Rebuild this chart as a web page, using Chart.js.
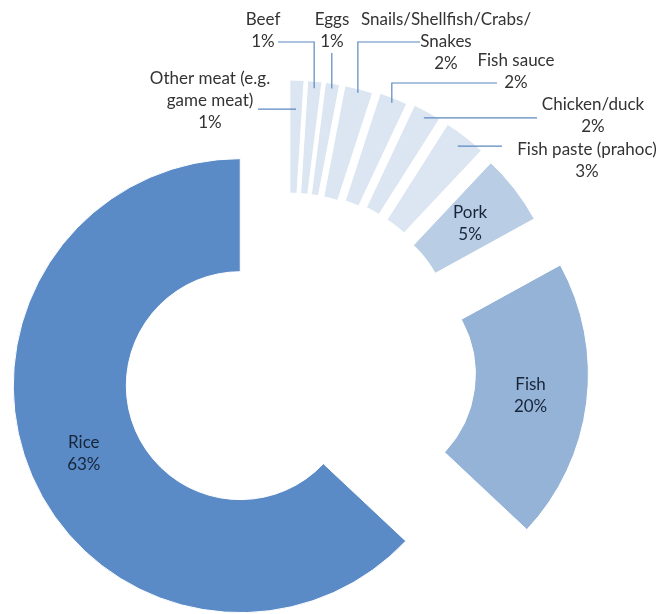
<!DOCTYPE html>
<html>
<head>
<meta charset="utf-8">
<script src="https://cdn.jsdelivr.net/npm/chart.js@4/dist/chart.umd.min.js"></script>
<style>
    body { margin: 0; background: #ffffff; }
    #wrap { width: 661px; height: 614px; }
</style>
</head>
<body>
<div id="wrap"><canvas id="foodChart" width="661" height="614"></canvas></div>
<script>
        // 데이터
        const categories = [
            ['Other meat (e.g.', 'game meat)'],
            'Beef',
            'Eggs',
            ['Snails/Shellfish/Crabs/', 'Snakes'],
            'Fish sauce',
            'Chicken/duck',
            'Fish paste (prahoc)',
            'Pork',
            'Fish',
            'Rice'
        ];
        const shares = [1, 1, 1, 2, 2, 2, 3, 5, 20, 63];

        // 스타일
        const sliceColors = [
            '#dce6f2', '#dce6f2', '#dce6f2', '#dce6f2', '#dce6f2', '#dce6f2', '#dce6f2',
            '#b9cde5', '#95b3d7', '#5b8bc7'
        ];
        const explode = [58, 58, 58, 58, 60, 62, 62, 60, 74, 52];
        const FONT = '17px Lato';
        const LINE_H = 22;

        // outside label layout: text centre of first line + leader line
        const outsideLabels = [
            { x: 210, y: 79, lead: 'h', fromX: 258, r: 198 },
            { x: 263, y: 20, lead: 'elbow', fromX: 278, fromY: 42, r: 220 },
            { x: 332, y: 20, lead: 'v', fromY: 53, r: 222 },
            { x: 446, y: 20, lead: 'elbow', fromX: 420, fromY: 42, r: 223 },
            { x: 516, y: 61, lead: 'elbow', fromX: 497, fromY: 83, r: 222 },
            { x: 593, y: 105, lead: 'h', fromX: 537, r: 220 },
            { x: 587, y: 150, lead: 'h', fromX: 502, r: 215 }
        ];

        // push each slice out along its own middle angle
        const explodePlugin = {
            id: 'explode',
            afterDatasetUpdate(chart) {
                const meta = chart.getDatasetMeta(0);
                meta.data.forEach((arc, i) => {
                    const mid = (arc.startAngle + arc.endAngle) / 2;
                    arc.x += Math.cos(mid) * explode[i];
                    arc.y += Math.sin(mid) * explode[i];
                });
            }
        };

        function pointOnArc(arc, r) {
            const mid = (arc.startAngle + arc.endAngle) / 2;
            return { x: arc.x + Math.cos(mid) * r, y: arc.y + Math.sin(mid) * r };
        }

        const labelPlugin = {
            id: 'sliceLabels',
            afterDatasetsDraw(chart) {
                const ctx = chart.ctx;
                const meta = chart.getDatasetMeta(0);
                ctx.save();
                ctx.font = FONT;
                ctx.textAlign = 'center';
                ctx.textBaseline = 'middle';

                meta.data.forEach((arc, i) => {
                    const name = categories[i];
                    const lines = (Array.isArray(name) ? name : [name]).concat([shares[i] + '%']);
                    const layout = outsideLabels[i];

                    if (!layout) {
                        // 내부 라벨
                        const p = arc.tooltipPosition();
                        ctx.fillStyle = '#16253a';
                        const top = p.y - (lines.length - 1) * LINE_H / 2;
                        lines.forEach((t, k) => ctx.fillText(t, p.x, top + k * LINE_H));
                        return;
                    }

                    // 리더 라인
                    const pt = pointOnArc(arc, layout.r);
                    ctx.strokeStyle = '#5b87c0';
                    ctx.lineWidth = 1.2;
                    ctx.beginPath();
                    if (layout.lead === 'h') {
                        ctx.moveTo(layout.fromX, pt.y);
                        ctx.lineTo(pt.x, pt.y);
                    } else if (layout.lead === 'v') {
                        ctx.moveTo(pt.x, layout.fromY);
                        ctx.lineTo(pt.x, pt.y);
                    } else {
                        ctx.moveTo(layout.fromX, layout.fromY);
                        ctx.lineTo(pt.x, layout.fromY);
                        ctx.lineTo(pt.x, pt.y);
                    }
                    ctx.stroke();

                    ctx.fillStyle = '#333333';
                    lines.forEach((t, k) => ctx.fillText(t, layout.x, layout.y + k * LINE_H));
                });
                ctx.restore();
            }
        };

        const ctx = document.getElementById('foodChart').getContext('2d');
        const foodChart = new Chart(ctx, {
            type: 'doughnut',
            data: {
                labels: categories,
                datasets: [{
                    data: shares,
                    backgroundColor: sliceColors,
                    borderColor: '#ffffff',
                    borderWidth: 1
                }]
            },
            options: {
                responsive: false,
                animation: false,
                events: [],
                radius: 227,
                cutout: '50.2%',
                layout: {
                    padding: { left: 0, right: 85, top: 116, bottom: 0 }
                },
                plugins: {
                    legend: { display: false },
                    tooltip: { enabled: false }
                }
            },
            plugins: [explodePlugin, labelPlugin]
        });
</script>
</body>
</html>
